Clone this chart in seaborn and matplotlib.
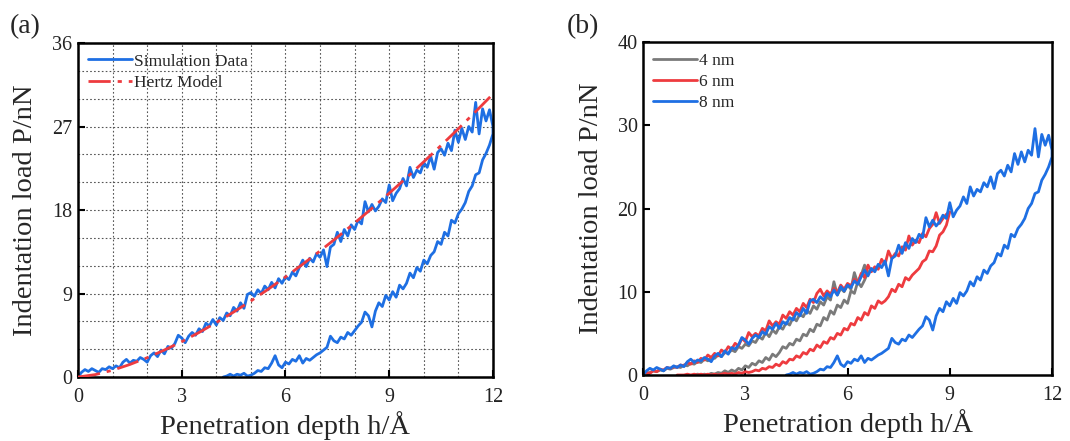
import numpy as np
import pandas as pd
import matplotlib
matplotlib.use("Agg")
import matplotlib.pyplot as plt
from matplotlib.ticker import MultipleLocator
import seaborn as sns

# ---------------- data ----------------
# 8 nm tip: loading branch, depth 0.0 -> 12.0 step 0.1
load_8nm_up = [0.0, 0.5, 0.8, 0.6, 0.9, 0.7, 0.5, 0.9, 0.8, 1.1,
               0.9, 1.2, 1.0, 1.6, 1.9, 1.5, 1.8, 1.7, 2.1, 1.9,
               1.6, 2.3, 2.6, 2.2, 2.9, 2.5, 3.3, 3.1, 3.6, 4.5,
               4.2, 3.7, 4.4, 4.8, 4.5, 5.2, 4.9, 5.8, 5.5, 6.2,
               5.6, 6.4, 6.1, 6.9, 6.6, 7.5, 7.1, 8.0, 7.4, 8.9,
               9.1, 8.7, 9.4, 9.0, 9.8, 9.4, 10.2, 9.6, 10.6, 10.1,
               10.8, 10.5, 11.3, 10.9, 11.8, 12.6, 11.9, 12.8, 12.4, 13.3,
               12.9, 13.7, 11.9, 14.0, 14.3, 15.6, 14.6, 15.9, 15.2, 16.4,
               15.9, 16.9, 16.5, 18.9, 17.8, 18.6, 17.9, 18.4, 19.2, 18.8,
               20.7, 19.0, 19.8, 20.3, 21.4, 20.6, 22.6, 21.5, 22.3, 22.0,
               23.1, 22.6, 23.8, 22.4, 24.2, 24.6, 23.9, 25.2, 24.4, 26.6,
               25.3, 26.8, 25.6, 27.0, 26.4, 29.6, 26.2, 28.9, 27.6, 28.8,
               27.0]
# 8 nm tip: unloading branch, depth 12.0 -> 4.2 step -0.1
load_8nm_down = [26.2, 25.0, 24.1, 23.4, 22.0, 21.8, 20.6, 20.0, 18.8, 18.1,
                 17.6, 16.6, 16.9, 15.2, 15.6, 14.3, 14.6, 13.5, 13.1, 12.2,
                 12.6, 11.4, 11.8, 10.7, 11.2, 10.1, 9.5, 9.9, 8.6, 9.2,
                 8.3, 8.8, 7.6, 8.0, 7.1, 5.4, 6.6, 7.0, 5.9, 5.5,
                 5.0, 4.5, 4.8, 4.1, 4.3, 3.7, 3.9, 4.4, 3.2, 2.9,
                 2.6, 2.4, 2.1, 1.8, 2.0, 1.5, 2.3, 1.7, 1.9, 1.4,
                 1.6, 1.0, 1.3, 2.3, 1.5, 0.9, 1.0, 0.6, 0.7, 0.4,
                 0.2, 0.1, 0.4, 0.2, 0.3, 0.1, 0.3, 0.1, 0.0]
# 4 nm tip: loading 0.0 -> 6.6, unloading 6.6 -> 1.5
load_4nm_up = [0.0, 0.2, 0.3, 0.5, 0.4, 0.6, 0.5, 0.8, 0.7, 0.9,
               1.0, 0.9, 1.2, 1.1, 1.4, 1.3, 1.6, 1.5, 1.9, 1.7,
               2.1, 2.0, 2.4, 2.2, 2.7, 2.6, 3.0, 2.8, 3.4, 3.2,
               3.7, 3.5, 4.1, 3.9, 4.6, 4.3, 5.1, 4.6, 5.4, 5.0,
               5.8, 5.5, 6.3, 6.0, 6.9, 6.5, 7.3, 7.0, 7.8, 7.4,
               8.3, 7.9, 8.8, 8.4, 9.4, 9.0, 11.2, 9.6, 10.4, 10.0,
               10.8, 10.3, 12.3, 11.0, 12.0, 13.2, 12.4]
load_4nm_down = [12.4, 11.4, 10.6, 11.2, 9.8, 10.1, 8.6, 9.0, 8.1, 8.4,
                 7.3, 7.7, 6.6, 6.9, 5.9, 6.1, 5.2, 5.5, 4.7, 4.9,
                 4.1, 4.3, 3.6, 3.8, 3.2, 3.4, 2.7, 2.2, 2.5, 1.8,
                 2.1, 1.5, 1.7, 1.2, 1.4, 0.9, 1.1, 0.6, 0.8, 0.4,
                 0.6, 0.3, 0.5, 0.2, 0.3, 0.1, 0.2, 0.0, 0.1, 0.0,
                 0.1, 0.0]
# 6 nm tip: loading 0.0 -> 9.0, unloading 9.0 -> 1.0
load_6nm_up = [0.0, 0.3, 0.2, 0.5, 0.4, 0.7, 0.6, 0.9, 0.8, 1.0,
               0.9, 1.2, 1.1, 1.5, 1.3, 1.7, 1.5, 2.0, 1.8, 2.4,
               2.1, 2.6, 2.3, 3.0, 2.7, 3.4, 3.1, 3.8, 3.5, 4.4,
               4.0, 5.1, 4.6, 5.0, 4.7, 5.6, 5.3, 6.5, 5.9, 6.4,
               6.1, 7.2, 6.8, 7.6, 7.2, 8.0, 7.6, 8.6, 8.1, 9.1,
               8.7, 9.8, 10.3, 9.5, 10.1, 9.7, 10.4, 9.9, 10.8, 10.3,
               11.0, 10.7, 11.5, 11.1, 12.2, 11.7, 13.2, 12.4, 13.0, 12.7,
               13.9, 13.3, 14.9, 14.0, 14.6, 14.3, 15.4, 15.0, 16.7, 15.6,
               16.2, 15.9, 17.0, 16.6, 17.6, 18.1, 19.5, 18.2, 18.8, 19.3,
               19.6]
load_6nm_down = [19.6, 18.0, 17.2, 16.8, 15.5, 14.8, 14.9, 13.9, 13.6, 12.8,
                 12.4, 12.0, 11.4, 11.7, 10.6, 10.9, 10.0, 10.3, 9.4, 8.9,
                 8.6, 8.9, 8.0, 8.3, 7.2, 7.5, 6.6, 6.9, 6.0, 6.2,
                 5.4, 5.6, 4.8, 5.0, 4.3, 4.5, 3.8, 4.0, 3.3, 3.6,
                 2.9, 3.1, 2.5, 2.7, 2.1, 2.3, 1.8, 1.9, 1.4, 1.6,
                 1.1, 1.3, 0.9, 1.0, 0.7, 0.8, 0.5, 0.6, 0.4, 0.3,
                 0.4, 0.2, 0.3, 0.1, 0.2, 0.1, 0.2, 0.1, 0.0, 0.1,
                 0.0, 0.1, 0.0, 0.1, 0.0, 0.1, 0.0, 0.1, 0.0, 0.0,
                 0.0]
# Hertz model fit, depth 0 -> 12 step 0.5
hertz_depth = [0.0, 0.5, 1.0, 1.5, 2.0, 2.5, 3.0, 3.5, 4.0, 4.5, 5.0, 5.5,
               6.0, 6.5, 7.0, 7.5, 8.0, 8.5, 9.0, 9.5, 10.0, 10.5, 11.0,
               11.5, 12.0]
hertz_load = [0.0, 0.26, 0.73, 1.35, 2.08, 2.91, 3.81, 4.80, 5.87, 7.00,
              8.20, 9.46, 10.78, 12.16, 13.59, 15.07, 16.60, 18.18, 19.81,
              21.48, 23.20, 24.96, 26.76, 28.61, 30.50]

series_labels = ["4 nm", "6 nm", "8 nm"]
x_ticks = [0, 3, 6, 9, 12]
y_ticks_a = [0, 9, 18, 27, 36]
y_ticks_b = [0, 10, 20, 30, 40]


def branch(vals, start, step):
    return [round(start + step * i, 2) for i in range(len(vals))]


def loop_frame(up, up_end, down, label):
    d_up = branch(up, 0.0, 0.1)
    d_down = branch(down, up_end, -0.1)
    return pd.DataFrame({"depth": d_up + d_down, "load": list(up) + list(down),
                         "series": label})


df8 = loop_frame(load_8nm_up, 12.0, load_8nm_down, "8 nm")
df6 = loop_frame(load_6nm_up, 9.0, load_6nm_down, "6 nm")
df4 = loop_frame(load_4nm_up, 6.6, load_4nm_down, "4 nm")
df_b = pd.concat([df4, df6, df8], ignore_index=True)
df_h = pd.DataFrame({"depth": hertz_depth, "load": hertz_load})

# ---------------- style ----------------
sns.set_theme(style="ticks")
plt.rcParams["font.family"] = ["Liberation Serif", "DejaVu Serif"]

BLUE = "#1E6FE3"
RED = "#EE3B3F"
GRAY = "#7A7A7A"

fig = plt.figure(figsize=(10.70, 4.41), dpi=100)
ax_a = fig.add_axes([0.0729, 0.1451, 0.3878, 0.7574])
ax_b = fig.add_axes([0.6010, 0.1497, 0.3822, 0.7550])

# ---------------- panel (a) ----------------
sns.lineplot(data=df8, x="depth", y="load", sort=False, estimator=None,
             color=BLUE, lw=2.0, ax=ax_a, label="Simulation Data")
sns.lineplot(data=df_h, x="depth", y="load", sort=False, estimator=None,
             color=RED, lw=2.0, ax=ax_a, label="Hertz Model")
ax_a.lines[1].set_linestyle((0, (8, 2.5, 1.5, 2.5)))
ax_a.lines[1].set_zorder(4)
ax_a.set_xlim(0, 12)
ax_a.set_ylim(0, 36)
ax_a.set_xticks(x_ticks)
ax_a.set_yticks(y_ticks_a)
ax_a.xaxis.set_minor_locator(MultipleLocator(1))
ax_a.yaxis.set_minor_locator(MultipleLocator(3))
ax_a.grid(which="both", linestyle=(0, (1.5, 2)), color="#555555", lw=0.8)
ax_a.set_axisbelow(True)
ax_a.legend(loc="upper left", frameon=False, fontsize=12.5,
            handlelength=2.5, handletextpad=0.15, labelspacing=0.3,
            borderaxespad=0.2)
ax_a.set_xlabel("Penetration depth h/Å", fontsize=20.5, labelpad=3)
ax_a.set_ylabel("Indentation load P/nN", fontsize=20.5, labelpad=10)

# ---------------- panel (b) ----------------
sns.lineplot(data=df_b, x="depth", y="load", hue="series", sort=False,
             estimator=None, palette={"4 nm": GRAY, "6 nm": RED, "8 nm": BLUE},
             hue_order=series_labels, lw=2.0, ax=ax_b)
ax_b.set_xlim(0, 12)
ax_b.set_ylim(0, 40)
ax_b.set_xticks(x_ticks)
ax_b.set_yticks(y_ticks_b)
ax_b.grid(False)
ax_b.legend(loc="upper left", frameon=False, fontsize=12.5,
            handlelength=2.5, handletextpad=0.15, labelspacing=0.3,
            borderaxespad=0.2, title=None)
ax_b.set_xlabel("Penetration depth h/Å", fontsize=20.5, labelpad=3)
ax_b.set_ylabel("Indentation load P/nN", fontsize=20.5, labelpad=10)

for ax in (ax_a, ax_b):
    for s in ax.spines.values():
        s.set_linewidth(1.8)
        s.set_color("black")
        s.set_visible(True)
    ax.tick_params(which="major", direction="in", length=5, width=1.5,
                   labelsize=14.5, colors="black", pad=4)
    ax.tick_params(axis="x", which="major", pad=8)
    ax.tick_params(which="minor", length=0)
    for t in ax.get_xticklabels() + ax.get_yticklabels():
        t.set_color("#222222")

fig.text(0.009, 0.925, "(a)", fontsize=20)
fig.text(0.530, 0.925, "(b)", fontsize=20)

fig.savefig("out.png", dpi=100)
